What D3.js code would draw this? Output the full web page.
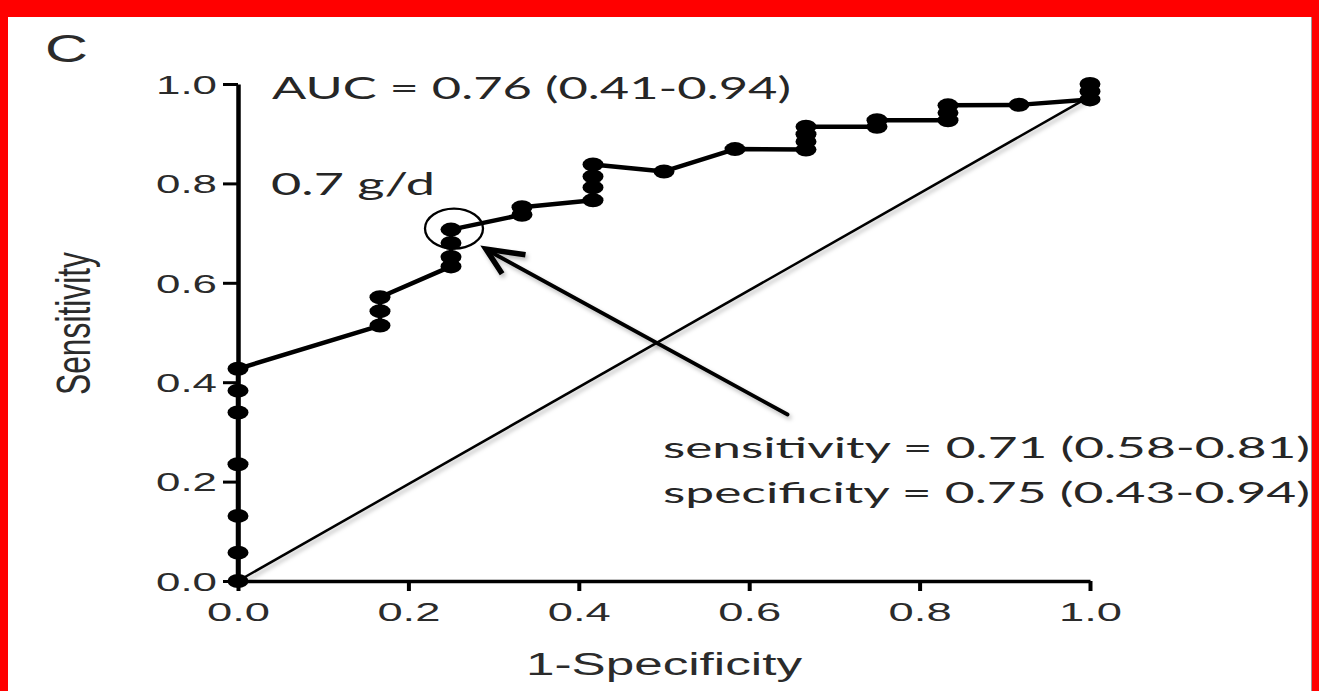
<!DOCTYPE html>
<html>
<head>
<meta charset="utf-8">
<script src="https://cdn.jsdelivr.net/npm/d3@7"></script>
<style>
  html, body { margin: 0; padding: 0; background: #fff; }
  svg { display: block; }
</style>
</head>
<body>
<div id="chart"></div>
<script>
// ---------------- data ----------------
const panelLabel = "C";
const xTitle = "1-Specificity";
const yTitle = "Sensitivity";
const xTicks = [0, 0.2, 0.4, 0.6, 0.8, 1.0];
const yTicks = [0, 0.2, 0.4, 0.6, 0.8, 1.0];
// ROC curve points: 1-specificity (fpr) and sensitivity (tpr)
const fpr = [0, 0, 0, 0, 0, 0, 0,
             2/12, 2/12, 2/12,
             3/12, 3/12, 3/12, 3/12,
             4/12, 4/12,
             5/12, 5/12, 5/12, 5/12,
             6/12,
             7/12,
             8/12, 8/12, 8/12, 8/12,
             9/12, 9/12,
             10/12, 10/12, 10/12,
             11/12,
             1, 1, 1];
const tpr = [0, 0.057, 0.131, 0.235, 0.339, 0.383, 0.427,
             0.514, 0.543, 0.571,
             0.633, 0.652, 0.680, 0.707,
             0.737, 0.752,
             0.766, 0.792, 0.814, 0.838,
             0.824,
             0.869,
             0.868, 0.884, 0.899, 0.914,
             0.914, 0.927,
             0.927, 0.942, 0.957,
             0.958,
             0.969, 0.985, 1.0];
const diagonal = [[0, 0], [1, 0.975]];
const cutoff = { fpr: 0.25, tpr: 0.707 };
const arrowFrom = [0.645, 0.335];
const arrowTo = [0.291, 0.668];
const aucText = "AUC = 0.76 (0.41-0.94)";
const cutText = "0.7 g/d";
const sensText = "sensitivity = 0.71 (0.58-0.81)";
const specText = "specificity = 0.75 (0.43-0.94)";

// ---------------- layout ----------------
const W = 1319, H = 691;
const SX = 1.5; // horizontal stretch of the original picture
const points = fpr.map((f, i) => ({ fpr: f, tpr: tpr[i] }));

const svg = d3.select("#chart").append("svg")
  .attr("width", W).attr("height", H);

const defs = svg.append("defs");
const f = defs.append("filter").attr("id", "shadow")
  .attr("x", "-10%").attr("y", "-10%").attr("width", "130%").attr("height", "130%");
f.append("feDropShadow").attr("dx", 2).attr("dy", 3).attr("stdDeviation", 2)
  .attr("flood-color", "#000").attr("flood-opacity", 0.28);

// frame
svg.append("rect").attr("x", 0).attr("y", 0).attr("width", W).attr("height", H).attr("fill", "#ff0000");
svg.append("rect").attr("x", 8).attr("y", 17).attr("width", 1304).attr("height", H - 17).attr("fill", "#ffffff");
svg.append("line").attr("x1", 1311.5).attr("x2", 1311.5).attr("y1", 17).attr("y2", H)
  .attr("stroke", "#9a9a9a").attr("stroke-width", 1);

const x = d3.scaleLinear().domain([0, 1]).range([238, 1090]);
const y = d3.scaleLinear().domain([0, 1]).range([581, 84]);

const fmt = d3.format(".1f");
const axisFont = "'Liberation Sans', Arial, Helvetica, sans-serif";
const noteFont = "Lato, 'Open Sans', sans-serif";

// x axis
const gx = svg.append("g").attr("transform", `translate(0,${y(0)})`)
  .call(d3.axisBottom(x).tickValues(xTicks).tickFormat(fmt).tickSize(10).tickSizeOuter(0));
gx.select(".domain").attr("stroke", "#000").attr("stroke-width", 3.5);
gx.selectAll(".tick line").attr("stroke", "#000").attr("stroke-width", 4);
gx.selectAll(".tick text")
  .attr("y", 40).attr("dy", null)
  .attr("fill", "#2b2b2b")
  .style("font-family", axisFont).style("font-size", "26.5px")
  .attr("textLength", 63).attr("lengthAdjust", "spacingAndGlyphs");

// y axis
const gy = svg.append("g").attr("transform", `translate(${x(0)},0)`)
  .call(d3.axisLeft(y).tickValues(yTicks).tickFormat(fmt).tickSize(15).tickSizeOuter(0));
gy.select(".domain").attr("stroke", "#000").attr("stroke-width", 4.5);
gy.selectAll(".tick line").attr("stroke", "#000").attr("stroke-width", 3);
gy.selectAll(".tick text")
  .attr("x", -21).attr("dy", "0.36em")
  .attr("fill", "#2b2b2b")
  .style("font-family", axisFont).style("font-size", "26px")
  .attr("textLength", 61).attr("lengthAdjust", "spacingAndGlyphs");

// diagonal reference line
svg.append("path")
  .datum(diagonal)
  .attr("d", d3.line().x(d => x(d[0])).y(d => y(d[1])))
  .attr("fill", "none").attr("stroke", "#000").attr("stroke-width", 2.5)
  .attr("filter", "url(#shadow)");

// ROC curve
svg.append("path")
  .datum(points)
  .attr("d", d3.line().x(d => x(d.fpr)).y(d => y(d.tpr)))
  .attr("fill", "none").attr("stroke", "#000").attr("stroke-width", 4.5)
  .attr("stroke-linejoin", "round");

svg.append("g").selectAll("ellipse")
  .data(points).join("ellipse")
  .attr("cx", d => x(d.fpr)).attr("cy", d => y(d.tpr))
  .attr("rx", 10.5).attr("ry", 7)
  .attr("fill", "#000");

// cutoff circle
svg.append("ellipse")
  .attr("cx", x(cutoff.fpr) + 3).attr("cy", y(cutoff.tpr) - 1)
  .attr("rx", 29).attr("ry", 20)
  .attr("fill", "none").attr("stroke", "#000").attr("stroke-width", 2.3);

// arrow
const ax0 = x(arrowFrom[0]), ay0 = y(arrowFrom[1]);
const ax1 = x(arrowTo[0]), ay1 = y(arrowTo[1]);
const ga = svg.append("g").attr("filter", "url(#shadow)");
ga.append("line").attr("x1", ax0).attr("y1", ay0).attr("x2", ax1 + 3).attr("y2", ay1 + 2)
  .attr("stroke", "#000").attr("stroke-width", 3.8).attr("stroke-linecap", "round");
// arrowhead computed in un-stretched space, then stretched
const ux = (ax0 - ax1) / SX, uy = ay0 - ay1;
const ang = Math.atan2(uy, ux);
const armLen = 27, half = 27 * Math.PI / 180;
const arm = s => [ax1 + SX * armLen * Math.cos(ang + s * half), ay1 + armLen * Math.sin(ang + s * half)];
const a1 = arm(-1), a2 = arm(1);
ga.append("path")
  .attr("d", `M${a1[0]},${a1[1]} L${ax1},${ay1} L${a2[0]},${a2[1]}`)
  .attr("fill", "none").attr("stroke", "#000").attr("stroke-width", 5.5)
  .attr("stroke-linejoin", "miter").attr("stroke-linecap", "butt");

// texts
function addText(txt, px, py, font, size, len, color) {
  return svg.append("text").text(txt)
    .attr("x", px).attr("y", py)
    .attr("fill", color || "#2b2b2b")
    .style("font-family", font).style("font-size", size + "px")
    .attr("textLength", len).attr("lengthAdjust", "spacingAndGlyphs");
}
addText(panelLabel, 45, 62, axisFont, 38, 43);
addText(aucText, 272, 99, noteFont, 31, 519, "#262626");
addText(cutText, 271, 195, noteFont, 31, 164, "#262626");
addText(sensText, 663, 458, noteFont, 28, 647, "#262626");
addText(specText, 663, 503, noteFont, 28, 647, "#262626");

// axis titles
svg.append("text").text(xTitle)
  .attr("x", (x(0) + x(1)) / 2).attr("y", 675)
  .attr("text-anchor", "middle")
  .attr("fill", "#2b2b2b")
  .style("font-family", axisFont).style("font-size", "31px")
  .attr("textLength", 276).attr("lengthAdjust", "spacingAndGlyphs");

svg.append("text").text(yTitle)
  .attr("transform", `translate(90,${(y(0) + y(1)) / 2 - 9}) scale(${SX},1) rotate(-90)`)
  .attr("text-anchor", "middle")
  .attr("fill", "#2b2b2b")
  .style("font-family", axisFont).style("font-size", "32px")
  .attr("textLength", 143).attr("lengthAdjust", "spacingAndGlyphs");
</script>
</body>
</html>
